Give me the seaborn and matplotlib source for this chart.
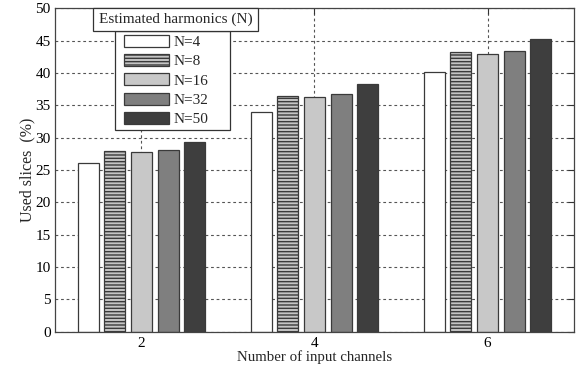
import matplotlib
matplotlib.use("Agg")
import matplotlib.pyplot as plt
import matplotlib.patches as mpatches
import seaborn as sns
import pandas as pd

# Used slices (%) per number of input channels, for each estimated-harmonics setting
channels = ["2", "4", "6"]
harmonics = ["N=4", "N=8", "N=16", "N=32", "N=50"]
slices_n4 = [26.0, 33.9, 40.2]
slices_n8 = [28.0, 36.4, 43.3]
slices_n16 = [27.7, 36.2, 42.9]
slices_n32 = [28.1, 36.7, 43.4]
slices_n50 = [29.3, 38.3, 45.3]
y_ticks = [0, 5, 10, 15, 20, 25, 30, 35, 40, 45, 50]

series = [slices_n4, slices_n8, slices_n16, slices_n32, slices_n50]
rows = []
for name, vals in zip(harmonics, series):
    for ch, v in zip(channels, vals):
        rows.append({"channels": ch, "slices": v, "N": name})
df = pd.DataFrame(rows)

sns.set_style("white")
plt.rcParams["font.family"] = ["Liberation Serif", "DejaVu Serif"]
plt.rcParams["hatch.linewidth"] = 1.0
plt.rcParams["hatch.color"] = "#5a5a5a"

fills = ["#ffffff", "#c4c4c4", "#c8c8c8", "#7f7f7f", "#3e3e3e"]
edge = "#3a3a3a"
frame_col = "#333333"

fig = plt.figure(figsize=(5.84, 3.71), dpi=100)
ax = fig.add_axes([0.094, 0.106, 0.889, 0.872])

sns.barplot(data=df, x="channels", y="slices", hue="N", order=channels,
            hue_order=harmonics, palette=fills, width=0.77, gap=0.21,
            edgecolor=edge, linewidth=0.9, saturation=1, legend=False, ax=ax)

handles = []
for i, cont in enumerate(ax.containers):
    for bar in cont:
        bar.set_edgecolor(edge)
        if i == 1:
            bar.set_hatch("-----")
    handles.append(mpatches.Patch(facecolor=fills[i], edgecolor=edge,
                                  linewidth=0.9,
                                  hatch="-----" if i == 1 else None))

ax.set_xlim(-0.5, 2.5)
ax.set_ylim(0, 50)
ax.set_yticks(y_ticks)
ax.set_xlabel("Number of input channels", fontsize=10.7, labelpad=0)
ax.set_ylabel("Used slices  (%)", fontsize=11.5, labelpad=0)
ax.tick_params(axis="both", direction="in", length=4, width=0.8,
               labelsize=11, colors="#333333", top=True, right=True,
               labelcolor="black", pad=3)
ax.tick_params(axis="x", pad=4)
for s in ax.spines.values():
    s.set_color("#444444")
    s.set_linewidth(0.9)
ax.set_axisbelow(True)
ax.grid(True, linestyle=(0, (2.5, 2.5)), color="#555555", linewidth=0.8)

# Frame around the legend entries
entries_box = mpatches.Rectangle((0.116, 0.623), 0.221, 0.306,
                                 transform=ax.transAxes, facecolor="white",
                                 edgecolor=frame_col, linewidth=0.9,
                                 zorder=4.8, clip_on=False)
ax.add_patch(entries_box)
leg = ax.legend(handles=handles, labels=harmonics, loc="upper left",
                bbox_to_anchor=(0.134, 0.918), borderaxespad=0,
                fontsize=11, frameon=False,
                handlelength=2.9, handleheight=0.85, labelspacing=0.32,
                handletextpad=0.3, borderpad=0)
leg.set_zorder(5)

# Legend title in its own box above the entries
title_box = mpatches.Rectangle((0.073, 0.929), 0.318, 0.071,
                               transform=ax.transAxes, facecolor="white",
                               edgecolor=frame_col, linewidth=0.9,
                               zorder=6, clip_on=False)
ax.add_patch(title_box)
ax.text(0.232, 0.9645, "Estimated harmonics (N)", transform=ax.transAxes,
        ha="center", va="center", fontsize=11, zorder=7)

fig.savefig("out.png", dpi=100)
